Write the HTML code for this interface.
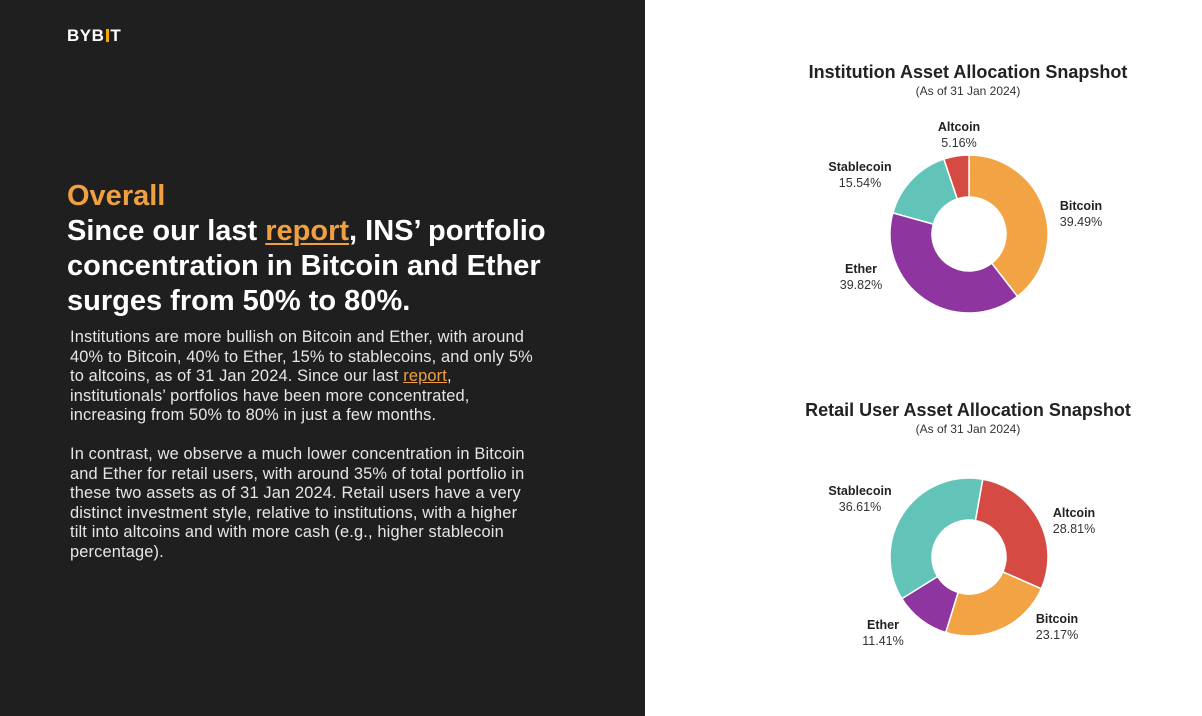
<!DOCTYPE html>
<html><head><meta charset="utf-8"><style>
*{margin:0;padding:0;box-sizing:border-box}
body{width:1202px;height:716px;position:relative;background:#fff;font-family:"Liberation Sans",sans-serif;overflow:hidden}
#left{position:absolute;left:0;top:0;width:645px;height:716px;background:#1f1f1f}
.logo{position:absolute;left:67px;top:26px;color:#fff;font-weight:bold;font-size:17px;letter-spacing:0.5px}
.logo i{display:inline-block;width:3px;height:13px;background:#f7a600;margin:0 1px 0 2px;vertical-align:-1px}
.h{position:absolute;left:67px;top:179px;font-weight:bold;font-size:29px;line-height:35px;color:#fff;white-space:nowrap}
.h .o{color:#f0a040}
.h u{color:#f0a040;text-decoration-thickness:2px;text-underline-offset:3px}
.b{position:absolute;left:70px;top:328px;font-size:16.4px;letter-spacing:0.15px;line-height:19.5px;color:#e6e6e6;white-space:nowrap}
.b u{color:#f0a040}
.t{position:absolute;width:400px;text-align:center;color:#222}
.t b{display:block;font-size:18px}
.t span{display:block;font-size:12px;margin-top:1px;color:#333}
.lab{position:absolute;font-size:12.5px;line-height:16px;color:#333;text-align:center}
.lab b{display:block;font-weight:bold;color:#222}
</style></head><body>
<div id="left">
<div class="logo">BYB<i></i>T</div>
<div class="h"><span class="o">Overall</span><br>Since our last <u>report</u>, INS’ portfolio<br>concentration in Bitcoin and Ether<br>surges from 50% to 80%.</div>
<div class="b">Institutions are more bullish on Bitcoin and Ether, with around<br>40% to Bitcoin, 40% to Ether, 15% to stablecoins, and only 5%<br>to altcoins, as of 31 Jan 2024. Since our last <u>report</u>,<br>institutionals’ portfolios have been more concentrated,<br>increasing from 50% to 80% in just a few months.<br><br>In contrast, we observe a much lower concentration in Bitcoin<br>and Ether for retail users, with around 35% of total portfolio in<br>these two assets as of 31 Jan 2024. Retail users have a very<br>distinct investment style, relative to institutions, with a higher<br>tilt into altcoins and with more cash (e.g., higher stablecoin<br>percentage).</div>
</div>
<div class="t" style="left:768px;top:62px"><b>Institution Asset Allocation Snapshot</b><span>(As of 31 Jan 2024)</span></div>
<div class="t" style="left:768px;top:400px"><b>Retail User Asset Allocation Snapshot</b><span>(As of 31 Jan 2024)</span></div>
<svg id="s" width="1202" height="716" style="position:absolute;left:0;top:0"></svg>
<div class="lab" style="left:929px;top:119px;width:60px"><b>Altcoin</b>5.16%</div>
<div class="lab" style="left:820px;top:159px;width:80px"><b>Stablecoin</b>15.54%</div>
<div class="lab" style="left:1051px;top:198px;width:60px"><b>Bitcoin</b>39.49%</div>
<div class="lab" style="left:831px;top:261px;width:60px"><b>Ether</b>39.82%</div>
<div class="lab" style="left:820px;top:483px;width:80px"><b>Stablecoin</b>36.61%</div>
<div class="lab" style="left:1044px;top:505px;width:60px"><b>Altcoin</b>28.81%</div>
<div class="lab" style="left:1027px;top:611px;width:60px"><b>Bitcoin</b>23.17%</div>
<div class="lab" style="left:853px;top:617px;width:60px"><b>Ether</b>11.41%</div>
<script>
var s=document.getElementById('s'),NS='http://www.w3.org/2000/svg';
function donut(cx,cy,R,r,start,data){var a=start;data.forEach(function(d){var b=a+d[0]*3.6;
function p(rad,ang){var t=(ang-90)*Math.PI/180;return (cx+rad*Math.cos(t)).toFixed(2)+' '+(cy+rad*Math.sin(t)).toFixed(2);}
var l=(b-a)>180?1:0;var e=document.createElementNS(NS,'path');
e.setAttribute('d','M'+p(R,a)+' A'+R+' '+R+' 0 '+l+' 1 '+p(R,b)+' L'+p(r,b)+' A'+r+' '+r+' 0 '+l+' 0 '+p(r,a)+'Z');
e.setAttribute('fill',d[1]);e.setAttribute('stroke','#fff');e.setAttribute('stroke-width','1.5');s.appendChild(e);a=b;});}
donut(969,234,79,37,0,[[39.49,'#f2a444'],[39.82,'#8e35a0'],[15.54,'#62c4b8'],[5.16,'#d54a42']]);
donut(969,557,79,37,10,[[28.81,'#d54a42'],[23.17,'#f2a444'],[11.41,'#8e35a0'],[36.61,'#62c4b8']]);
</script>
</body></html>
